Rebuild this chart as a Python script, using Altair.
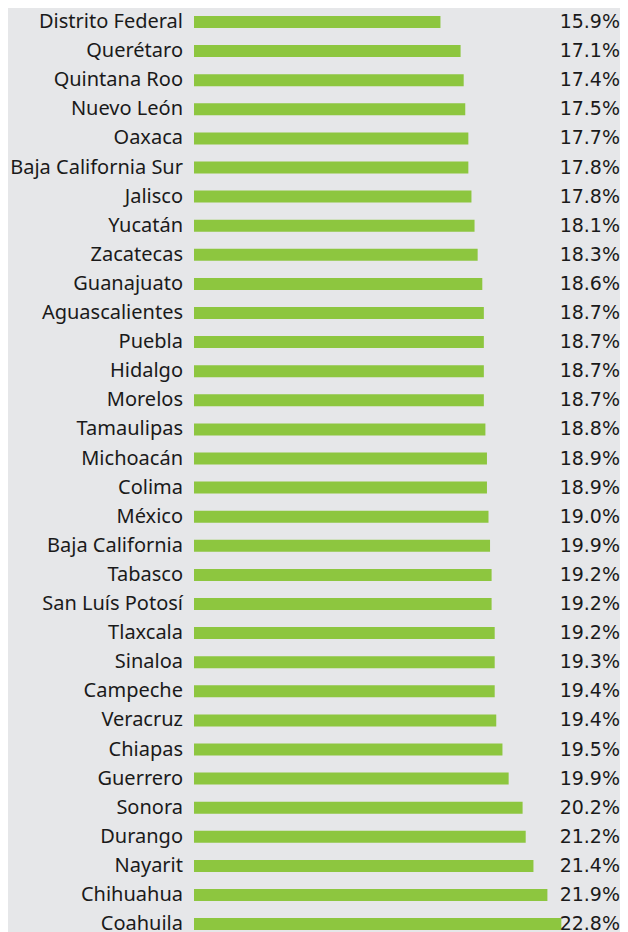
import altair as alt
import pandas as pd

states = ["Distrito Federal", "Querétaro", "Quintana Roo", "Nuevo León", "Oaxaca",
          "Baja California Sur", "Jalisco", "Yucatán", "Zacatecas", "Guanajuato",
          "Aguascalientes", "Puebla", "Hidalgo", "Morelos", "Tamaulipas", "Michoacán",
          "Colima", "México", "Baja California", "Tabasco", "San Luís Potosí", "Tlaxcala",
          "Sinaloa", "Campeche", "Veracruz", "Chiapas", "Guerrero", "Sonora", "Durango",
          "Nayarit", "Chihuahua", "Coahuila"]

# bar lengths as drawn
bar_values = [15.9, 17.2, 17.4, 17.5, 17.7, 17.7, 17.9, 18.1, 18.3, 18.6,
              18.7, 18.7, 18.7, 18.7, 18.8, 18.9, 18.9, 19.0, 19.1, 19.2,
              19.2, 19.4, 19.4, 19.4, 19.5, 19.9, 20.3, 21.2, 21.4, 21.9,
              22.8, 23.7]

# value labels as printed
value_labels = ["15.9%", "17.1%", "17.4%", "17.5%", "17.7%", "17.8%", "17.8%", "18.1%",
                "18.3%", "18.6%", "18.7%", "18.7%", "18.7%", "18.7%", "18.8%", "18.9%",
                "18.9%", "19.0%", "19.9%", "19.2%", "19.2%", "19.2%", "19.3%", "19.4%",
                "19.4%", "19.5%", "19.9%", "20.2%", "21.2%", "21.4%", "21.9%", "22.8%"]

df = pd.DataFrame({"state": states, "bar": bar_values, "label": value_labels})

BG = "#e6e7e9"
GREEN = "#8dc63f"
TXT = "#1a1a1a"

yscale = alt.Scale(type="band", domain=states, range=[-0.55, 930.65],
                   paddingInner=0.588, paddingOuter=0.294)
y = alt.Y("state:N", scale=yscale, axis=None, sort=None)

base = alt.Chart(df)

bars = base.mark_bar(color=GREEN).encode(
    y=y,
    x=alt.X("bar:Q", scale=alt.Scale(domain=[0, 20], range=[186, 496], zero=True, nice=False), axis=None),
)

names = base.mark_text(align="right", baseline="middle", font="Noto Sans",
                       fontSize=20, color=TXT).encode(
    y=y, x=alt.value(175), text="state:N")

vals = base.mark_text(align="right", baseline="middle", font="DejaVu Sans",
                      fontSize=19, color=TXT).encode(
    y=y, x=alt.value(612), text="label:N")

chart = alt.layer(bars, names, vals).properties(
    width=612, height=930, background=BG, padding=0,
    autosize=alt.AutoSizeParams(type="none"),
).configure_view(stroke=None)

chart.save("out.html", embed_options={"renderer": "svg", "actions": False})
